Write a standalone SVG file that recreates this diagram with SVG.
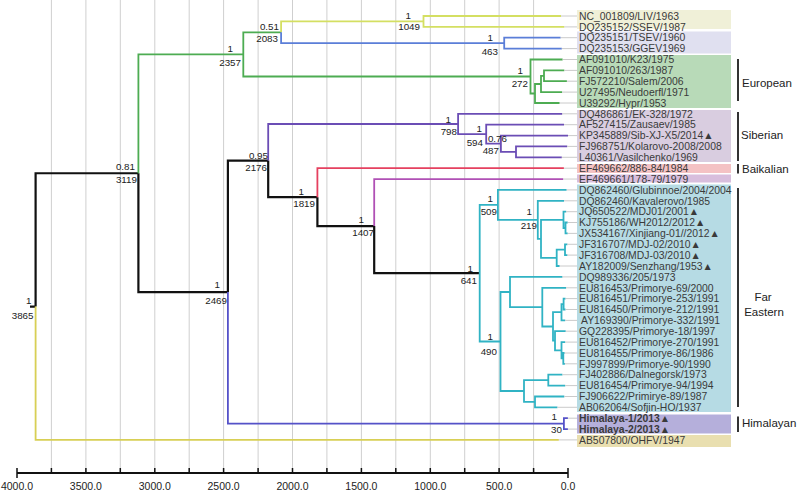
<svg xmlns="http://www.w3.org/2000/svg" width="798" height="492" viewBox="0 0 798 492">
<style>
.grid{stroke:#cfcfcf;stroke-width:1;fill:none}
.br{fill:none;stroke-linejoin:miter;stroke-linecap:butt}
.k{stroke:#111;stroke-width:2.2}
.yl{stroke:#d8cf55;stroke-width:1.8}
.gr{stroke:#4dac52;stroke-width:1.8}
.li{stroke:#d4df62;stroke-width:1.8}
.bl{stroke:#5b7ed8;stroke-width:1.8}
.pu{stroke:#6b4db5;stroke-width:1.8}
.rd{stroke:#e5405f;stroke-width:1.8}
.mg{stroke:#b050b5;stroke-width:1.8}
.cy{stroke:#30b3c4;stroke-width:1.8}
.hm{stroke:#5552c8;stroke-width:1.8}
.tip{stroke:#bdbdbd;stroke-width:0.8;fill:none}
.leaf{font-family:"Liberation Sans",Arial,sans-serif;font-size:10.4px;fill:#3a3a3a}
.bold{font-weight:bold}
.nl{font-family:"Liberation Sans",Arial,sans-serif;font-size:9.8px;fill:#222;text-anchor:end}
.grp{font-family:"Liberation Sans",Arial,sans-serif;font-size:11.5px;fill:#222}
.bar{stroke:#333;stroke-width:2}
.ax{font-family:"Liberation Sans",Arial,sans-serif;font-size:10.5px;fill:#222;text-anchor:middle}
</style>

<g id="grid">
<path class="grid" d="M533.6,0V473M499.1,0V473M464.7,0V473M430.3,0V473M395.8,0V473M361.4,0V473M326.9,0V473M292.5,0V473M258.1,0V473M223.6,0V473M189.2,0V473M154.8,0V473M120.3,0V473M85.9,0V473M51.4,0V473"/>
</g>

<g id="label-boxes">
<rect x="577" y="10" width="154" height="19" fill="#f0f0d8"/>
<rect x="577" y="31.5" width="154" height="22" fill="#e0e0f0"/>
<rect x="577" y="55" width="154" height="53" fill="#b8dab8"/>
<rect x="577" y="110" width="154" height="52" fill="#d9cde0"/>
<rect x="577" y="164" width="154" height="9" fill="#f4c2c4"/>
<rect x="577" y="174.5" width="154" height="8" fill="#d8bedd"/>
<rect x="577" y="184.5" width="154" height="227.5" fill="#b6dbe4"/>
<rect x="577" y="414.5" width="154" height="19" fill="#b5afdb"/>
<rect x="577" y="435" width="154" height="12" fill="#e9dfb0"/>
</g>

<g id="connectors">
<path class="br k" d="M30,306.6H35.6M35.6,306.6V173.25H138.4M138.4,173.25V292.1H227.9M227.9,292.1V160.6H268.2M268.2,160.6V197.2H317.4M317.4,197.2V226.1H374.2M374.2,226.1V273.2H479.7"/>
<path class="br yl" d="M35.6,306.6V439.9H558.8"/>
<path class="br gr" d="M138.4,173.25V54.4H243.3M243.3,54.4V32.3H281.1M243.3,54.4V76.5H530.5M530.5,76.5V59.5H562.6M530.5,76.5V93.5H535M535,93.5V84H541M535,93.5V103H559.6M541,84V75.8H544M541,84V92.1H562.1M544,75.8V70.4H564.3M544,75.8V81.2H566.9"/>
<path class="br li" d="M281.1,32.3V21.4H423.5M423.5,21.4V16H561M423.5,21.4V26.9H564.3"/>
<path class="br bl" d="M281.1,32.3V43.2H504.2M504.2,43.2V37.7H560.6M504.2,43.2V48.6H561.8"/>
<path class="br pu" d="M268.2,160.6V124H458.1M458.1,124V113.8H562.2M458.1,124V134.2H486.2M486.2,134.2V124.7H564M486.2,134.2V143.7H500.9M500.9,143.7V135.6H568M500.9,143.7V151.9H516M516,151.9V146.4H567.2M516,151.9V157.3H561.8"/>
<path class="br rd" d="M317.4,197.2V168.2H563.9"/>
<path class="br mg" d="M374.2,226.1V179.05H563.2"/>
<path class="br cy" d="M479.7,273.2V204.9H497.9M479.7,273.2V341.5H500.5M497.9,204.9V189.9H566.6M497.9,204.9V219.8H537.8M537.8,219.8V200.8H564M537.8,219.8V238.8H541M541,238.8V219.8H563.5M541,238.8V257.9H556.7M563.5,219.8V211.7H566.2M563.5,219.8V228H565.5M565.5,228V222.5H567.7M565.5,228V233.4H567.7M556.7,257.9V249.7H565M556.7,257.9V266H559.6M565,249.7V244.3H567.4M565,249.7V255.1H567.4M500.5,341.5V292H510M500.5,341.5V391H524M510,292V276.9H562.4M510,292V307.1H542.3M542.3,307.1V287.8H566.1M542.3,307.1V326.5H553M553,326.5V312.2H561.5M553,326.5V340.7H555M561.5,312.2V304.1H563.6M561.5,312.2V320.4H565.2M563.6,304.1V298.6H565.5M563.6,304.1V309.5H565.5M555,340.7V331.2H565.7M555,340.7V350.3H561.5M561.5,350.3V342.1H565.2M561.5,350.3V358.4H563.3M563.3,358.4V353H564.6M563.3,358.4V363.8H564.9M524,391V380.1H548.3M524,391V401.9H535M548.3,380.1V374.7H562.4M548.3,380.1V385.6H565.2M535,401.9V396.5H564.3M535,401.9V407.3H557.4"/>
<path class="br hm" d="M227.9,292.1V423.6H563.9M563.9,423.6V418.2H567.9M563.9,423.6V429.1H567.9"/>
<path class="tip" d="M561,16H577M564.3,26.9H577M560.6,37.7H577M561.8,48.6H577M562.6,59.5H577M564.3,70.4H577M566.9,81.2H577M562.1,92.1H577M559.6,103H577M562.2,113.8H577M564,124.7H577M568,135.6H577M567.2,146.4H577M561.8,157.3H577M563.9,168.2H577M563.2,179.05H577M566.6,189.9H577M564,200.8H577M566.2,211.7H577M567.7,222.5H577M567.7,233.4H577M567.4,244.3H577M567.4,255.1H577M559.6,266H577M562.4,276.9H577M566.1,287.8H577M565.5,298.6H577M565.5,309.5H577M565.2,320.4H577M565.7,331.2H577M565.2,342.1H577M564.6,353H577M564.9,363.8H577M562.4,374.7H577M565.2,385.6H577M564.3,396.5H577M557.4,407.3H577M567.9,418.2H577M567.9,429.1H577M558.8,439.9H577"/>
</g>

<g id="node-labels">
<g id="n3865"><text class="nl" x="31.5" y="303.5">1</text><text class="nl" x="33.5" y="318.5">3865</text></g>
<g id="n3119"><text class="nl" x="135" y="170">0.81</text><text class="nl" x="137" y="182.5">3119</text></g>
<g id="n2357"><text class="nl" x="233" y="51.8">1</text><text class="nl" x="241" y="65.8">2357</text></g>
<g id="n2083"><text class="nl" x="279" y="29.5">0.51</text><text class="nl" x="278" y="42.2">2083</text></g>
<g id="n2469"><text class="nl" x="220" y="287.8">1</text><text class="nl" x="227" y="304.2">2469</text></g>
<g id="n2176"><text class="nl" x="268" y="158.5">0.95</text><text class="nl" x="267" y="170.8">2176</text></g>
<g id="n1819"><text class="nl" x="304" y="195.2">1</text><text class="nl" x="315" y="206.8">1819</text></g>
<g id="n1407"><text class="nl" x="364" y="222.5">1</text><text class="nl" x="374" y="236.2">1407</text></g>
<g id="n641"><text class="nl" x="473" y="271.8">1</text><text class="nl" x="477" y="283.5">641</text></g>
<g id="n509"><text class="nl" x="493" y="201.8">1</text><text class="nl" x="497" y="214.5">509</text></g>
<g id="n219"><text class="nl" x="532" y="215.2">1</text><text class="nl" x="537" y="229.2">219</text></g>
<g id="n490"><text class="nl" x="493" y="340.2">1</text><text class="nl" x="497" y="355.2">490</text></g>
<g id="n798"><text class="nl" x="451" y="122.5">1</text><text class="nl" x="457" y="134.5">798</text></g>
<g id="n594"><text class="nl" x="482" y="131.8">1</text><text class="nl" x="483" y="145.8">594</text></g>
<g id="n487"><text class="nl" x="507" y="141.8">0.76</text><text class="nl" x="499" y="154.2">487</text></g>
<g id="n1049"><text class="nl" x="411" y="18.5">1</text><text class="nl" x="420" y="30.2">1049</text></g>
<g id="n463"><text class="nl" x="493" y="41.2">1</text><text class="nl" x="498" y="55.2">463</text></g>
<g id="n272"><text class="nl" x="523" y="74.2">1</text><text class="nl" x="528" y="86.8">272</text></g>
<g id="n30"><text class="nl" x="557" y="420.2">1</text><text class="nl" x="562" y="432.8">30</text></g>
</g>

<g id="leaves">
<g id="l1"><text class="leaf" x="579" y="19.7">NC_001809/LIV/1963</text></g>
<g id="l2"><text class="leaf" x="579" y="30.6">DQ235152/SSEV/1987</text></g>
<g id="l3"><text class="leaf" x="579" y="41.4">DQ235151/TSEV/1960</text></g>
<g id="l4"><text class="leaf" x="579" y="52.3">DQ235153/GGEV1969</text></g>
<g id="l5"><text class="leaf" x="579" y="63.2">AF091010/K23/1975</text></g>
<g id="l6"><text class="leaf" x="579" y="74.1">AF091010/263/1987</text></g>
<g id="l7"><text class="leaf" x="579" y="84.9">FJ572210/Salem/2006</text></g>
<g id="l8"><text class="leaf" x="579" y="95.8">U27495/Neudoerfl/1971</text></g>
<g id="l9"><text class="leaf" x="579" y="106.7">U39292/Hypr/1953</text></g>
<g id="l10"><text class="leaf" x="579" y="117.5">DQ486861/EK-328/1972</text></g>
<g id="l11"><text class="leaf" x="579" y="128.4">AF527415/Zausaev/1985</text></g>
<g id="l12"><text class="leaf" x="579" y="139.3">KP345889/Sib-XJ-X5/2014▲</text></g>
<g id="l13"><text class="leaf" x="579" y="150.1">FJ968751/Kolarovo-2008/2008</text></g>
<g id="l14"><text class="leaf" x="579" y="161">L40361/Vasilchenko/1969</text></g>
<g id="l15"><text class="leaf" x="579" y="171.9">EF469662/886-84/1984</text></g>
<g id="l16"><text class="leaf" x="579" y="182.8">EF469661/178-79/1979</text></g>
<g id="l17"><text class="leaf" x="579" y="193.6">DQ862460/Glubinnoe/2004/2004</text></g>
<g id="l18"><text class="leaf" x="579" y="204.5">DQ862460/Kavalerovo/1985</text></g>
<g id="l19"><text class="leaf" x="579" y="215.4">JQ650522/MDJ01/2001▲</text></g>
<g id="l20"><text class="leaf" x="579" y="226.2">KJ755186/WH2012/2012▲</text></g>
<g id="l21"><text class="leaf" x="579" y="237.1">JX534167/Xinjiang-01//2012▲</text></g>
<g id="l22"><text class="leaf" x="579" y="248">JF316707/MDJ-02/2010▲</text></g>
<g id="l23"><text class="leaf" x="579" y="258.8">JF316708/MDJ-03/2010▲</text></g>
<g id="l24"><text class="leaf" x="579" y="269.7">AY182009/Senzhang/1953▲</text></g>
<g id="l25"><text class="leaf" x="579" y="280.6">DQ989336/205/1973</text></g>
<g id="l26"><text class="leaf" x="579" y="291.5">EU816453/Primorye-69/2000</text></g>
<g id="l27"><text class="leaf" x="579" y="302.3">EU816451/Primorye-253/1991</text></g>
<g id="l28"><text class="leaf" x="579" y="313.2">EU816450/Primorye-212/1991</text></g>
<g id="l29"><text class="leaf" x="581" y="324.1">AY169390/Primorye-332/1991</text></g>
<g id="l30"><text class="leaf" x="579" y="334.9">GQ228395/Primorye-18/1997</text></g>
<g id="l31"><text class="leaf" x="579" y="345.8">EU816452/Primorye-270/1991</text></g>
<g id="l32"><text class="leaf" x="579" y="356.7">EU816455/Primorye-86/1986</text></g>
<g id="l33"><text class="leaf" x="579" y="367.5">FJ997899/Primorye-90/1990</text></g>
<g id="l34"><text class="leaf" x="579" y="378.4">FJ402886/Dalnegorsk/1973</text></g>
<g id="l35"><text class="leaf" x="579" y="389.3">EU816454/Primorye-94/1994</text></g>
<g id="l36"><text class="leaf" x="579" y="400.2">FJ906622/Primirye-89/1987</text></g>
<g id="l37"><text class="leaf" x="579" y="411">AB062064/Sofjin-HO/1937</text></g>
<g id="l38"><text class="leaf bold" x="579" y="421.9">Himalaya-1/2013▲</text></g>
<g id="l39"><text class="leaf bold" x="579" y="432.8">Himalaya-2/2013▲</text></g>
<g id="l40"><text class="leaf" x="579" y="443.6">AB507800/OHFV/1947</text></g>
</g>

<g id="groups">
<g id="g-european"><line class="bar" x1="738" y1="59" x2="738" y2="101"/><text class="grp" x="742" y="87">European</text></g>
<g id="g-siberian"><line class="bar" x1="738" y1="112" x2="738" y2="161"/><text class="grp" x="741" y="139">Siberian</text></g>
<g id="g-baikalian"><line class="bar" x1="738" y1="164" x2="738" y2="173.5"/><text class="grp" x="742" y="172.5">Baikalian</text></g>
<g id="g-fareastern"><line class="bar" x1="738" y1="188" x2="738" y2="407"/><text class="grp" x="763" y="301.3" text-anchor="middle">Far</text><text class="grp" x="764" y="315.7" text-anchor="middle">Eastern</text></g>
<g id="g-himalayan"><line class="bar" x1="738" y1="416.5" x2="738" y2="432"/><text class="grp" x="742" y="427.3">Himalayan</text></g>
</g>

<g id="axis">
<path d="M17,473H568" stroke="#111" stroke-width="2" fill="none"/>
<path d="M17,468V478M51.4,468V473M85.9,468V473M120.3,468V473M154.8,468V473M189.2,468V473M223.6,468V473M258.1,468V473M292.5,468V473M326.9,468V473M361.4,468V473M395.8,468V473M430.3,468V473M464.7,468V473M499.1,468V473M533.6,468V473M568,468V478" stroke="#111" stroke-width="1.5" fill="none"/>
<text class="ax" x="17" y="490">4000.0</text>
<text class="ax" x="85.9" y="490">3500.0</text>
<text class="ax" x="154.8" y="490">3000.0</text>
<text class="ax" x="223.6" y="490">2500.0</text>
<text class="ax" x="292.5" y="490">2000.0</text>
<text class="ax" x="361.4" y="490">1500.0</text>
<text class="ax" x="430.3" y="490">1000.0</text>
<text class="ax" x="499.1" y="490">500.0</text>
<text class="ax" x="568" y="490">0.0</text>
</g>
</svg>
